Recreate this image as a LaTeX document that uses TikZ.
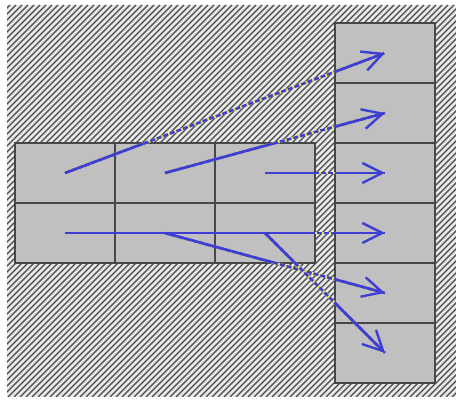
\documentclass[tikz,border=0pt]{standalone}
\usetikzlibrary{arrows.meta,positioning}
\definecolor{boxgray}{RGB}{192,192,192}
\definecolor{hatchdark}{RGB}{72,72,72}
\definecolor{hatchlight}{RGB}{232,232,232}
\definecolor{arrblue}{RGB}{62,62,212}
\definecolor{arryellow}{RGB}{235,235,70}
\begin{document}
\begin{tikzpicture}[x=0.5pt, y=-0.5pt,
  cell/.style={rectangle, draw=black!72, fill=boxgray, line width=1.4pt,
               minimum width=50pt, minimum height=30pt, inner sep=0pt, outer sep=0pt},
  arr/.style={-{Straight Barb[length=10pt,width=10pt,line width=1.2pt]}, line width=1.3pt, draw=arrblue},
  gapline/.style={line width=1.3pt, draw=arryellow},
  gapdash/.style={line width=1.3pt, draw=arrblue, dash pattern=on 2.5pt off 1pt},
  node distance=0pt
]
\useasboundingbox (0,0) rectangle (462,401);

% hatched background
\fill[hatchlight] (7,5) rectangle (456,397);
\begin{scope}
  \clip (7,5) rectangle (456,397);
  \foreach \x in {-400,-394,...,460}
    \draw[hatchdark, line width=0.65pt] (\x,397) -- ++(392,-392);
\end{scope}

% source grid
\node[cell] (l11) at (65,173) {};
\node[cell, right=of l11] (l12) {};
\node[cell, right=of l12] (l13) {};
\node[cell, below=of l11] (l21) {};
\node[cell, right=of l21] (l22) {};
\node[cell, right=of l22] (l23) {};

% target column
\node[cell] (r1) at (385,53) {};
\foreach \i [count=\j from 2] in {1,...,5}
  \node[cell, below=of r\i] (r\j) {};

% links outside the boxes
\foreach \a/\b in {l11/r1,l12/r2,l13/r3,l21/r4,l22/r5,l23/r6} {
  \draw[gapline] (\a.center) -- (\b.center);
  \draw[gapdash] (\a.center) -- (\b.center);
}

% links inside the boxes
\begin{scope}
  \clip (l11.north west) rectangle (l23.south east)
        (r1.north west) rectangle (r6.south east);
  \foreach \a/\b in {l11/r1,l12/r2,l13/r3,l21/r4,l22/r5,l23/r6}
    \draw[arr] (\a.center) -- (\b.center);
\end{scope}

\end{tikzpicture}
\end{document}
